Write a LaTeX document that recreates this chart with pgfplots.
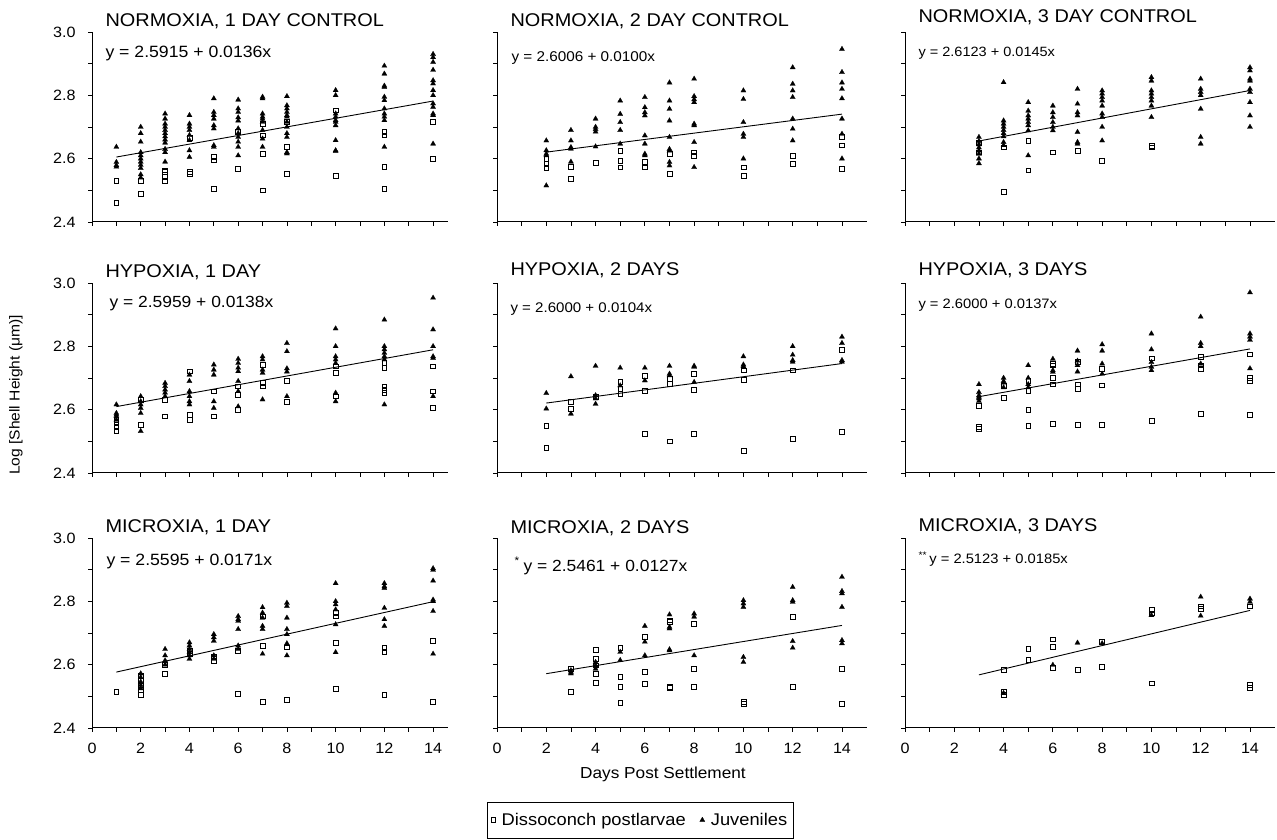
\documentclass[border=0pt]{standalone}
\usepackage{pgfplots}
\pgfplotsset{compat=1.18}
\usepackage{fontspec}
\setmainfont{Liberation Sans}[FakeStretch=1.08]

\pgfplotsset{
  panel/.style={
    scale only axis, width=369.6bp, height=190bp,
    xmin=0, xmax=15, ymin=2.4, ymax=3.0,
    axis x line=bottom, axis y line=left,
    axis line style={-, line width=1bp},
    xtick={0,2,...,14}, minor xtick={1,3,...,13},
    ytick={2.4,2.6,2.8,3.0}, minor ytick={2.5,2.7,2.9},
    tick align=outside, major tick length=4bp, minor tick length=4bp,
    every tick/.style={black, line width=0.8bp},
    /pgf/number format/assume math mode=true,
    tick label style={font=\fontsize{15}{15}\selectfont},
    xticklabel style={yshift=-8bp},
    yticklabel style={xshift=-9bp, /pgf/number format/fixed, /pgf/number format/fixed zerofill, /pgf/number format/precision=1},
    anchor=south west, clip=false,
  },
  nox/.style={xticklabels={}},
  noy/.style={yticklabels={}},
  sq/.style={only marks, mark=square, mark size=2.4bp, mark options={black, line width=0.6bp}},
  tri/.style={only marks, mark=triangle*, mark size=3bp, mark options={black, fill=black, line width=0.2bp}},
  fit/.style={black, line width=0.9bp, no marks},
}
\newcommand{\ptitle}[2]{\node[anchor=base west, xshift=10bp, yshift=#1, font=\fontsize{18.5}{19}\selectfont] at (rel axis cs:0,1) {#2};}
\newcommand{\peq}[4]{\node[anchor=base west, xshift=#1, yshift=#2, font=\fontsize{#3}{#3}\selectfont] at (rel axis cs:0,1) {#4};}

\begin{document}
\begin{tikzpicture}[x=1bp,y=1bp]
\useasboundingbox (0,0) rectangle (1277,840);

% ---- row 1: normoxia
\begin{axis}[panel, nox, at={(92bp,618bp)}, width=355.7bp, xmax=14.6]
\addplot[sq] coordinates {(1,2.53)(1,2.46)(2,2.53)(2,2.49)(3,2.563)(3,2.558)(3,2.542)(3,2.53)(4,2.665)(4,2.558)(4,2.553)(5,2.605)(5,2.595)(5,2.505)(6,2.684)(6,2.568)(7,2.71)(7,2.674)(7,2.616)(7,2.50)(8,2.716)(8,2.637)(8,2.553)(10,2.753)(10,2.547)(12,2.684)(12,2.674)(12,2.574)(12,2.505)(14,2.716)(14,2.60)};
\addplot[tri] coordinates {(1,2.637)(1,2.589)(1,2.579)(1,2.574)
(2,2.70)(2,2.68)(2,2.653)(2,2.62)(2,2.61)(2,2.60)(2,2.59)(2,2.58)(2,2.57)(2,2.55)(2,2.54)
(3,2.742)(3,2.726)(3,2.71)(3,2.70)(3,2.69)(3,2.68)(3,2.67)(3,2.66)(3,2.65)(3,2.63)(3,2.62)(3,2.59)
(4,2.737)(4,2.71)(4,2.70)(4,2.69)(4,2.674)(4,2.658)(4,2.626)(4,2.605)
(5,2.79)(5,2.747)(5,2.737)(5,2.726)(5,2.705)(5,2.695)(5,2.642)(5,2.637)
(6,2.786)(6,2.758)(6,2.747)(6,2.73)(6,2.72)(6,2.695)(6,2.68)(6,2.668)(6,2.653)(6,2.637)(6,2.61)
(7,2.795)(7,2.79)(7,2.742)(7,2.732)(7,2.726)(7,2.716)(7,2.69)(7,2.663)(7,2.637)
(8,2.797)(8,2.768)(8,2.758)(8,2.747)(8,2.737)(8,2.732)(8,2.716)(8,2.70)(8,2.68)(8,2.668)(8,2.62)(8,2.616)
(10,2.816)(10,2.80)(10,2.742)(10,2.732)(10,2.721)(10,2.716)(10,2.705)(10,2.658)(10,2.626)(10,2.624)
(12,2.893)(12,2.868)(12,2.83)(12,2.826)(12,2.795)(12,2.784)(12,2.758)(12,2.742)(12,2.732)(12,2.721)(12,2.637)
(14,2.93)(14,2.92)(14,2.905)(14,2.88)(14,2.847)(14,2.837)(14,2.816)(14,2.80)(14,2.774)(14,2.763)(14,2.742)(14,2.737)(14,2.647)};
\addplot[fit] coordinates {(1,2.6051)(14,2.7819)};
\ptitle{5bp}{NORMOXIA, 1 DAY CONTROL}
\peq{10bp}{-26bp}{16.4}{y = 2.5915 + 0.0136x}
\end{axis}

\begin{axis}[panel, nox, noy, at={(497bp,618bp)}]
\addplot[sq] coordinates {(2,2.60)(2,2.585)(2,2.57)(3,2.575)(3,2.537)(4,2.586)(5,2.626)(5,2.594)(5,2.573)(6,2.589)(6,2.573)(7,2.615)(7,2.552)(8,2.62)(8,2.61)(10,2.573)(10,2.547)(12,2.61)(12,2.584)(14,2.668)(14,2.642)(14,2.568)};
\addplot[tri] coordinates {(2,2.657)(2,2.626)(2,2.615)(2,2.61)(2,2.515)(3,2.69)(3,2.657)(3,2.636)(3,2.631)(3,2.59)(4,2.726)(4,2.70)(4,2.693)(4,2.685)(4,2.638)(5,2.783)(5,2.741)(5,2.715)(5,2.69)(5,2.647)(6,2.794)(6,2.762)(6,2.746)(6,2.736)(6,2.673)(6,2.647)(6,2.615)(6,2.61)(7,2.84)(7,2.783)(7,2.757)(7,2.72)(7,2.668)(7,2.63)(7,2.625)(7,2.589)(7,2.578)(8,2.852)(8,2.797)(8,2.787)(8,2.778)(8,2.71)(8,2.705)(8,2.652)(8,2.573)(10,2.815)(10,2.788)(10,2.715)(10,2.678)(10,2.668)(10,2.60)(12,2.888)(12,2.836)(12,2.815)(12,2.794)(12,2.726)(12,2.694)(12,2.657)(14,2.946)(14,2.873)(14,2.84)(14,2.82)(14,2.79)(14,2.726)(14,2.678)(14,2.60)};
\addplot[fit] coordinates {(2,2.6206)(14,2.7406)};
\ptitle{5bp}{NORMOXIA, 2 DAY CONTROL}
\peq{11bp}{-30bp}{14.2}{y = 2.6006 + 0.0100x}
\end{axis}

\begin{axis}[panel, nox, noy, at={(905bp,618bp)}]
\addplot[sq] coordinates {(3,2.65)(3,2.62)(4,2.636)(4,2.495)(5,2.657)(5,2.563)(6,2.62)(7,2.626)(8,2.594)(10,2.641)(10,2.636)};
\addplot[tri] coordinates {(3,2.668)(3,2.655)(3,2.645)(3,2.635)(3,2.625)(3,2.615)(3,2.60)(3,2.585)(4,2.841)(4,2.72)(4,2.71)(4,2.70)(4,2.69)(4,2.68)(4,2.67)(4,2.652)(4,2.642)(5,2.778)(5,2.751)(5,2.736)(5,2.726)(5,2.715)(5,2.705)(5,2.689)(5,2.61)(6,2.767)(6,2.746)(6,2.731)(6,2.715)(6,2.70)(6,2.689)(7,2.82)(7,2.773)(7,2.746)(7,2.736)(7,2.684)(7,2.652)(7,2.647)(8,2.815)(8,2.805)(8,2.794)(8,2.783)(8,2.767)(8,2.742)(8,2.731)(8,2.70)(8,2.657)(10,2.857)(10,2.846)(10,2.815)(10,2.805)(10,2.794)(10,2.783)(10,2.767)(10,2.731)(12,2.852)(12,2.82)(12,2.81)(12,2.80)(12,2.757)(12,2.668)(12,2.647)(14,2.888)(14,2.878)(14,2.852)(14,2.846)(14,2.82)(14,2.81)(14,2.778)(14,2.736)(14,2.70)};
\addplot[fit] coordinates {(3,2.6558)(14,2.8153)};
\ptitle{9bp}{NORMOXIA, 3 DAY CONTROL}
\peq{10bp}{-25bp}{13.5}{y = 2.6123 + 0.0145x}
\end{axis}

% ---- row 2: hypoxia
\begin{axis}[panel, nox, at={(92bp,367bp)}, width=355.7bp, xmax=14.6]
\addplot[sq] coordinates {(1,2.568)(1,2.558)(1,2.547)(1,2.532)(2,2.632)(2,2.553)(3,2.632)(3,2.579)(4,2.721)(4,2.584)(4,2.568)(5,2.658)(5,2.579)(6,2.674)(6,2.647)(6,2.60)(7,2.742)(7,2.684)(7,2.674)(8,2.69)(8,2.626)(10,2.737)(10,2.716)(10,2.642)(12,2.747)(12,2.732)(12,2.674)(12,2.663)(12,2.653)(14,2.737)(14,2.658)(14,2.605)};
\addplot[tri] coordinates {(1,2.616)(1,2.589)(1,2.584)(1,2.579)(1,2.568)(2,2.642)(2,2.626)(2,2.616)(2,2.605)(2,2.589)(2,2.532)(3,2.684)(3,2.674)(3,2.663)(3,2.653)(3,2.642)(4,2.71)(4,2.69)(4,2.658)(4,2.642)(4,2.626)(4,2.616)(5,2.742)(5,2.726)(5,2.71)(5,2.626)(5,2.605)(6,2.76)(6,2.747)(6,2.732)(6,2.721)(6,2.69)(6,2.658)(6,2.61)(7,2.768)(7,2.758)(7,2.726)(7,2.716)(7,2.632)(8,2.81)(8,2.784)(8,2.73)(8,2.72)(8,2.642)(10,2.856)(10,2.80)(10,2.768)(10,2.758)(10,2.747)(10,2.653)(10,2.626)(12,2.884)(12,2.80)(12,2.79)(12,2.779)(12,2.768)(12,2.758)(12,2.616)(14,2.953)(14,2.853)(14,2.80)(14,2.768)(14,2.763)(14,2.642)};
\addplot[fit] coordinates {(1,2.6097)(14,2.7891)};
\ptitle{5bp}{HYPOXIA, 1 DAY}
\peq{14bp}{-25bp}{16.2}{y = 2.5959 + 0.0138x}
\end{axis}

\begin{axis}[panel, nox, noy, at={(497bp,367bp)}]
\addplot[sq] coordinates {(2,2.55)(2,2.48)(3,2.624)(3,2.603)(4,2.64)(5,2.687)(5,2.666)(5,2.65)(6,2.708)(6,2.66)(6,2.525)(7,2.697)(7,2.682)(7,2.50)(8,2.713)(8,2.662)(8,2.525)(10,2.724)(10,2.694)(10,2.47)(12,2.724)(12,2.508)(14,2.79)(14,2.529)};
\addplot[tri] coordinates {(2,2.652)(2,2.603)(3,2.705)(3,2.587)(4,2.738)(4,2.645)(4,2.635)(4,2.618)(5,2.732)(5,2.676)(6,2.732)(6,2.692)(7,2.738)(7,2.713)(7,2.708)(8,2.738)(8,2.735)(8,2.687)(10,2.768)(10,2.742)(10,2.737)(12,2.80)(12,2.773)(12,2.756)(12,2.751)(14,2.83)(14,2.81)(14,2.756)(14,2.751)};
\addplot[fit] coordinates {(2,2.6208)(14,2.7456)};
\ptitle{7bp}{HYPOXIA, 2 DAYS}
\peq{10bp}{-30bp}{14}{y = 2.6000 + 0.0104x}
\end{axis}

\begin{axis}[panel, nox, noy, at={(905bp,367bp)}]
\addplot[sq] coordinates {(3,2.613)(3,2.545)(3,2.54)(4,2.675)(4,2.637)(5,2.69)(5,2.66)(5,2.60)(5,2.55)(6,2.745)(6,2.74)(6,2.70)(6,2.68)(6,2.555)(7,2.75)(7,2.68)(7,2.667)(7,2.553)(8,2.73)(8,2.677)(8,2.551)(10,2.762)(10,2.564)(12,2.766)(12,2.74)(12,2.73)(12,2.587)(14,2.775)(14,2.70)(14,2.69)(14,2.583)};
\addplot[tri] coordinates {(3,2.68)(3,2.655)(3,2.645)(3,2.64)(3,2.635)(3,2.627)(4,2.70)(4,2.69)(4,2.685)(4,2.67)(5,2.74)(5,2.70)(5,2.68)(5,2.67)(6,2.76)(6,2.724)(6,2.719)(7,2.786)(7,2.754)(7,2.74)(7,2.72)(8,2.806)(8,2.786)(8,2.745)(8,2.713)(10,2.84)(10,2.79)(10,2.75)(10,2.735)(10,2.724)(12,2.893)(12,2.81)(12,2.80)(12,2.745)(14,2.97)(14,2.84)(14,2.83)(14,2.82)(14,2.73)};
\addplot[fit] coordinates {(3,2.6411)(14,2.7918)};
\ptitle{7bp}{HYPOXIA, 3 DAYS}
\peq{10bp}{-26bp}{13.7}{y = 2.6000 + 0.0137x}
\end{axis}

% ---- row 3: microxia
\begin{axis}[panel, at={(92bp,112bp)}, width=355.7bp, xmax=14.6]
\addplot[sq] coordinates {(1,2.514)(2,2.566)(2,2.55)(2,2.535)(2,2.52)(2,2.504)(3,2.60)(3,2.572)(4,2.644)(4,2.634)(5,2.624)(5,2.613)(6,2.644)(6,2.509)(7,2.753)(7,2.66)(7,2.483)(8,2.655)(8,2.488)(10,2.764)(10,2.753)(10,2.67)(10,2.525)(12,2.655)(12,2.639)(12,2.504)(14,2.675)(14,2.483)};
\addplot[tri] coordinates {(2,2.572)(2,2.56)(2,2.546)(2,2.535)(2,2.525)(3,2.649)(3,2.629)(3,2.613)(3,2.60)(4,2.67)(4,2.66)(4,2.649)(4,2.639)(4,2.629)(4,2.618)(5,2.696)(5,2.686)(5,2.675)(5,2.629)(5,2.618)(6,2.753)(6,2.743)(6,2.738)(6,2.712)(6,2.66)(6,2.649)(7,2.781)(7,2.764)(7,2.748)(7,2.722)(7,2.712)(7,2.634)(8,2.795)(8,2.785)(8,2.748)(8,2.712)(8,2.696)(8,2.667)(8,2.629)(10,2.857)(10,2.80)(10,2.79)(10,2.774)(10,2.727)(10,2.639)(12,2.857)(12,2.847)(12,2.842)(12,2.779)(12,2.743)(12,2.722)(14,2.904)(14,2.899)(14,2.865)(14,2.805)(14,2.80)(14,2.769)(14,2.634)};
\addplot[fit] coordinates {(1,2.5766)(14,2.7989)};
\ptitle{6bp}{MICROXIA, 1 DAY}
\peq{11bp}{-27bp}{16.4}{y = 2.5595 + 0.0171x}
\end{axis}

\begin{axis}[panel, noy, at={(497bp,112bp)},
  legend columns=2,
  legend image code/.code={\draw[#1] plot coordinates {(0bp,0bp)};},
  legend style={at={(0.387,-0.389)}, anchor=north, draw=black, line width=0.6bp,
    font=\fontsize{17}{17}\selectfont, inner xsep=4bp, inner ysep=9bp,
    /tikz/every odd column/.append style={column sep=4bp},
    /tikz/every even column/.append style={column sep=12bp}},
  legend cell align=left]
\addplot[sq] coordinates {(3,2.587)(3,2.514)(4,2.648)(4,2.619)(4,2.598)(4,2.572)(4,2.543)(5,2.653)(5,2.562)(5,2.53)(5,2.48)(6,2.687)(6,2.577)(6,2.54)(7,2.74)(7,2.735)(7,2.53)(7,2.527)(8,2.729)(8,2.587)(8,2.53)(10,2.482)(10,2.477)(12,2.751)(12,2.53)(14,2.587)(14,2.477)};
\addlegendentry{Dissoconch postlarvae}
\addplot[tri] coordinates {(3,2.582)(3,2.577)(3,2.572)(4,2.608)(4,2.598)(4,2.587)(5,2.64)(5,2.614)(6,2.722)(6,2.672)(6,2.629)(7,2.758)(7,2.719)(7,2.714)(7,2.648)(7,2.645)(8,2.761)(8,2.751)(8,2.629)(10,2.803)(10,2.793)(10,2.782)(10,2.624)(10,2.608)(12,2.845)(12,2.803)(12,2.798)(12,2.674)(12,2.653)(14,2.877)(14,2.832)(14,2.825)(14,2.782)(14,2.677)(14,2.667)};
\addlegendentry{Juveniles}
\addplot[fit, forget plot] coordinates {(2,2.5715)(14,2.7239)};
\ptitle{5bp}{MICROXIA, 2 DAYS}
\node[anchor=base west, xshift=14bp, yshift=-26bp, font=\fontsize{11}{11}\selectfont] at (rel axis cs:0,1) {*};
\peq{23bp}{-33bp}{16.2}{y = 2.5461 + 0.0127x}
\end{axis}

\begin{axis}[panel, noy, at={(905bp,112bp)}]
\addplot[sq] coordinates {(4,2.583)(4,2.515)(4,2.505)(5,2.651)(5,2.615)(6,2.68)(6,2.657)(6,2.59)(7,2.583)(8,2.672)(8,2.594)(10,2.772)(10,2.762)(10,2.541)(12,2.784)(12,2.777)(14,2.784)(14,2.536)(14,2.526)};
\addplot[tri] coordinates {(4,2.51)(6,2.599)(7,2.669)(8,2.667)(10,2.756)(12,2.814)(12,2.754)(14,2.808)(14,2.798)};
\addplot[fit] coordinates {(3,2.5678)(14,2.7713)};
\ptitle{7bp}{MICROXIA, 3 DAYS}
\peq{10bp}{-26bp}{13.7}{\textsuperscript{**}\,y = 2.5123 + 0.0185x}
\end{axis}

% ---- shared labels
\node[rotate=90, font=\fontsize{14.5}{15}\selectfont] at (16,445) {Log [Shell Height (μm)]};
\node[anchor=base, font=\fontsize{16}{16}\selectfont] at (663,61) {Days Post Settlement};
\end{tikzpicture}
\end{document}
